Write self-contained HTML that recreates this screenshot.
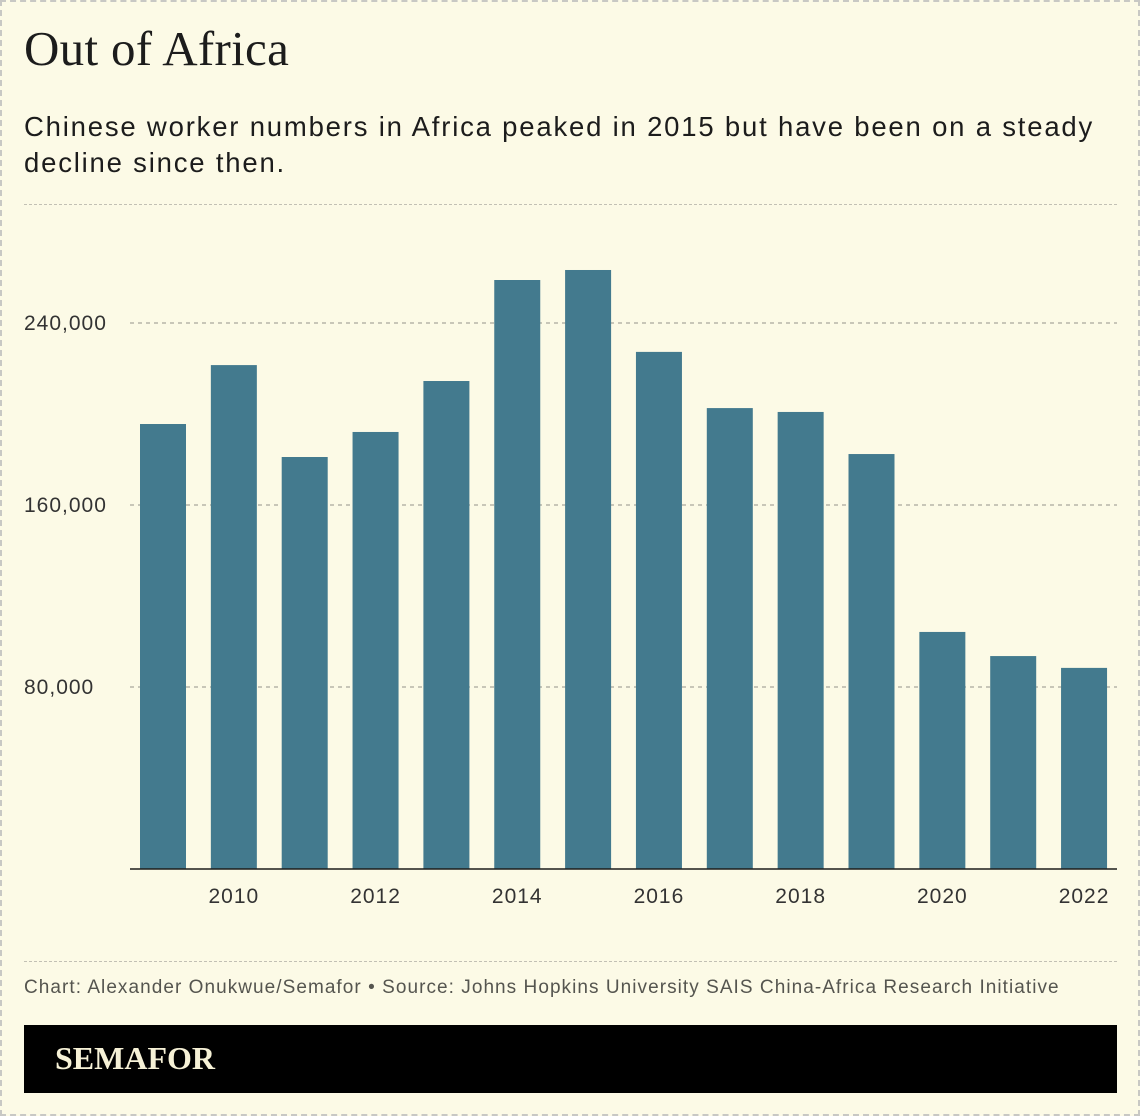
<!DOCTYPE html>
<html><head><meta charset="utf-8"><style>
html,body{margin:0;padding:0}
body{width:1140px;height:1116px;background:#fcfaE6;position:relative;overflow:hidden;font-family:"Liberation Sans",sans-serif}
#frame{position:absolute;left:0;top:0;width:1136px;height:1112px;border:2px dashed #c8c8c4}
#title{position:absolute;left:24px;top:20px;font-family:"Liberation Serif",serif;font-size:49px;color:#1c1c1c;margin:0;font-weight:normal;letter-spacing:0.3px}
#sub{position:absolute;left:24px;top:109px;width:1100px;font-size:27.5px;line-height:36px;color:#1c1c1c;letter-spacing:1.8px;white-space:nowrap}
.dash{position:absolute;left:24px;width:1093px;border-top:1.5px dashed #c2c0b4}
#credit{position:absolute;left:24px;top:977px;font-size:19px;color:#55554f;letter-spacing:1.05px;white-space:nowrap}
#logo{position:absolute;left:24px;top:1025px;width:1093px;height:68px;background:#000}
#logo span{position:absolute;left:31px;top:15px;font-family:"Liberation Serif",serif;font-weight:bold;font-size:32px;color:#f6f1d6}
svg{position:absolute;left:0;top:0}
</style></head><body>
<div id="frame"></div>
<h1 id="title">Out of Africa</h1>
<div id="sub">Chinese worker numbers in Africa peaked in 2015 but have been on a steady<br>decline since then.</div>
<div class="dash" style="top:204px"></div>
<svg id="chart" width="1140" height="1116"></svg>
<div class="dash" style="top:961px"></div>
<div id="credit">Chart: Alexander Onukwue/Semafor • Source: Johns Hopkins University SAIS China-Africa Research Initiative</div>
<div id="logo"><span>SEMAFOR</span></div>
<script>
const years=[2009,2010,2011,2012,2013,2014,2015,2016,2017,2018,2019,2020,2021,2022];
const workers=[195600,221500,181100,192100,214500,258900,263300,227300,202600,200900,182400,104200,93600,88400];
const yTicks=[80000,160000,240000];
const yTickLabels=["80,000","160,000","240,000"];
const xTickYears=[2010,2012,2014,2016,2018,2020,2022];

const NS="http://www.w3.org/2000/svg";
const svg=document.getElementById('chart');
const y0=869, pxPer=182/80000;
const y=v=>y0-v*pxPer;
const step=70.85, firstC=163;
const x=yr=>firstC+(yr-years[0])*step;
const bw=46;
function mk(t,a){const e=document.createElementNS(NS,t);for(const k in a)e.setAttribute(k,a[k]);svg.appendChild(e);return e;}
yTicks.forEach((v,i)=>{
  const l=mk('line',{x1:130,x2:1117,y1:y(v),y2:y(v),stroke:'#a8a79c','stroke-width':1.2,'stroke-dasharray':'4,4'});
  
  
  const t=mk('text',{x:24,y:y(v)+7,'font-size':21,'letter-spacing':1,fill:'#333','font-family':'Liberation Sans, sans-serif'});
  t.textContent=yTickLabels[i];
  
  
});
years.forEach((yr,i)=>{
  const r=mk('rect',{x:x(yr)-bw/2,y:y(workers[i]),width:bw,height:y0-y(workers[i]),fill:'#437a8e'});
  
  
});
const ax=mk('line',{x1:130,x2:1117,y1:y0,y2:y0,stroke:'#1c1c1c','stroke-width':1.5});


xTickYears.forEach(yr=>{
  const t=mk('text',{x:x(yr),y:903,'font-size':21,'letter-spacing':1,fill:'#333','text-anchor':'middle','font-family':'Liberation Sans, sans-serif'});
  t.textContent=yr;
  
  
});
</script>
</body></html>
